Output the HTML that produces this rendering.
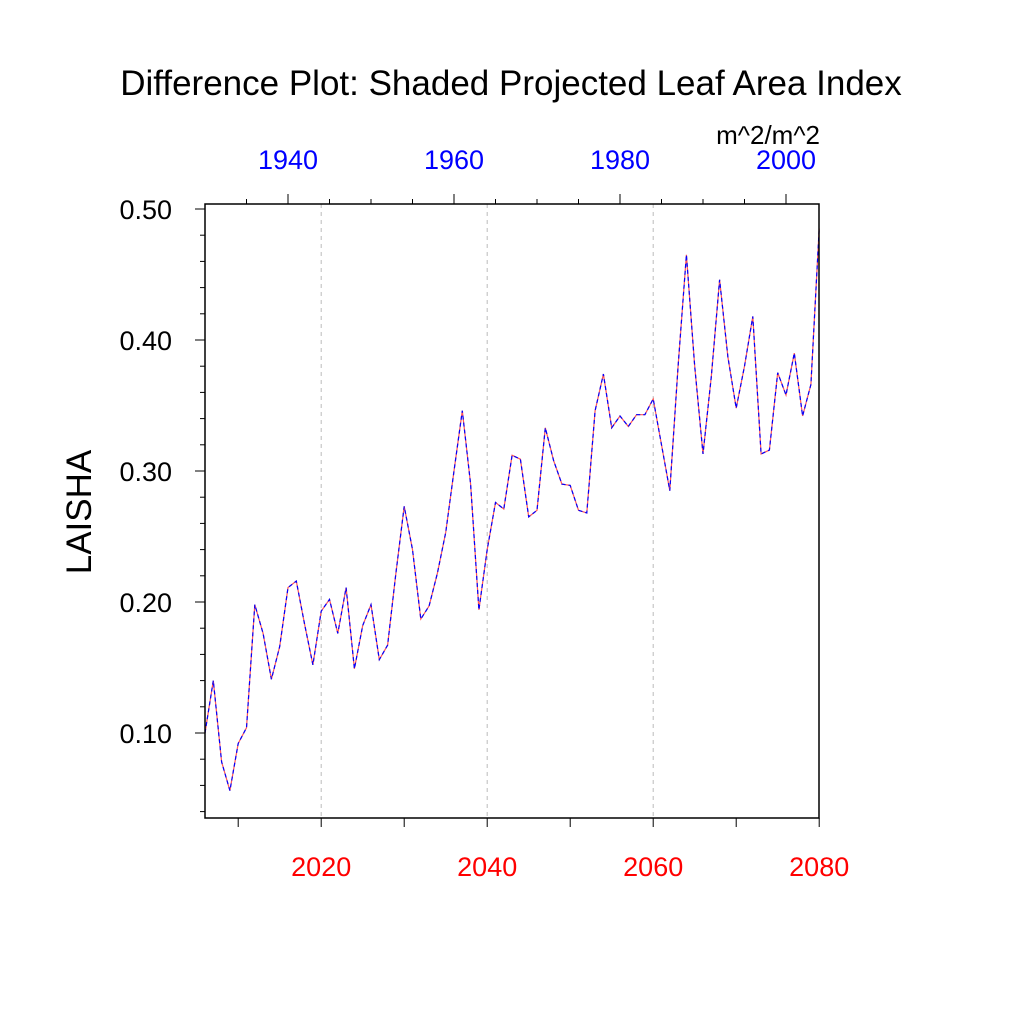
<!DOCTYPE html>
<html><head><meta charset="utf-8"><style>
body{margin:0;background:#fff}
svg{display:block;font-family:"Liberation Sans",sans-serif}
</style></head><body>
<svg id="chart" width="1024" height="1024">
<text x="511" y="95" font-size="35" text-anchor="middle">Difference Plot: Shaded Projected Leaf Area Index</text>
<text x="820" y="144" font-size="26" text-anchor="end">m^2/m^2</text>
<text transform="translate(91,512) rotate(-90)" font-size="35" text-anchor="middle">LAISHA</text>
<g id="grid"></g>
<g id="axes"></g>
<g id="series"></g>
<rect x="205" y="204" width="614" height="614" fill="none" stroke="#000" stroke-width="1.5"/>
</svg>
<script>
const years=[2006,2007,2008,2009,2010,2011,2012,2013,2014,2015,2016,2017,2018,2019,2020,2021,2022,2023,2024,2025,2026,2027,2028,2029,2030,2031,2032,2033,2034,2035,2036,2037,2038,2039,2040,2041,2042,2043,2044,2045,2046,2047,2048,2049,2050,2051,2052,2053,2054,2055,2056,2057,2058,2059,2060,2061,2062,2063,2064,2065,2066,2067,2068,2069,2070,2071,2072,2073,2074,2075,2076,2077,2078,2079,2080];
const laisha=[0.100,0.140,0.078,0.056,0.092,0.104,0.198,0.176,0.141,0.166,0.211,0.216,0.183,0.152,0.193,0.202,0.176,0.211,0.149,0.182,0.198,0.156,0.167,0.222,0.273,0.240,0.187,0.197,0.222,0.253,0.300,0.346,0.290,0.194,0.240,0.276,0.271,0.312,0.309,0.265,0.270,0.333,0.308,0.290,0.289,0.270,0.268,0.346,0.374,0.333,0.342,0.334,0.343,0.343,0.355,0.320,0.285,0.380,0.465,0.380,0.313,0.372,0.446,0.387,0.348,0.380,0.418,0.313,0.316,0.375,0.358,0.390,0.342,0.366,0.485];
const yTicks=[0.10,0.20,0.30,0.40,0.50];
const bottomTicks=[2020,2040,2060,2080];
const topTicks=[1940,1960,1980,2000];
const NS="http://www.w3.org/2000/svg";
const x=v=>205+(v-2006)*8.3;
const y=v=>209+(0.5-v)*1310;
function mk(tag,attrs,parent){const e=document.createElementNS(NS,tag);for(const k in attrs)e.setAttribute(k,attrs[k]);parent.appendChild(e);return e;}
const grid=document.getElementById('grid'),axes=document.getElementById('axes'),series=document.getElementById('series');
bottomTicks.slice(0,3).forEach(t=>{const l=mk('line',{x1:x(t),x2:x(t),y1:204,y2:818,stroke:'#bbb','stroke-width':1,'stroke-dasharray':'4,4'},grid);

});
for(let t=2010;t<=2080;t+=10){const l=mk('line',{x1:x(t),x2:x(t),y1:818,y2:827,stroke:'#000','stroke-width':1},axes);

}
bottomTicks.forEach(t=>{const e=mk('text',{x:x(t),y:876,'font-size':27,fill:'#f00','text-anchor':'middle'},axes);e.textContent=t;

});
const off=76;
for(let t=1935;t<=2004;t+=5){const px=x(t+off);if(px<205||px>819)continue;const major=t%20===0;
const l=mk('line',{x1:px,x2:px,y1:major?194:199,y2:204,stroke:'#000','stroke-width':1},axes);

}
topTicks.forEach(t=>{const e=mk('text',{x:x(t+off),y:169,'font-size':27,fill:'#00f','text-anchor':'middle'},axes);e.textContent=t;

});
for(let i=2;i<=25;i++){const v=i*0.02;const py=y(v);if(py>818)continue;const major=i%5===0;
const l=mk('line',{x1:major?195:200,x2:205,y1:py,y2:py,stroke:'#000','stroke-width':1},axes);

}
yTicks.forEach(v=>{const e=mk('text',{x:172,y:y(v)+10,'font-size':27,'text-anchor':'end'},axes);e.textContent=v.toFixed(2);

});
const pts=years.map((t,i)=>x(t)+','+y(laisha[i])).join(' ');
const r=mk('polyline',{points:pts,fill:'none',stroke:'#f55','stroke-width':1.2},series);


const b=mk('polyline',{points:pts,fill:'none',stroke:'#00f','stroke-width':1.2,'stroke-dasharray':'4,3'},series);


</script>
</body></html>
